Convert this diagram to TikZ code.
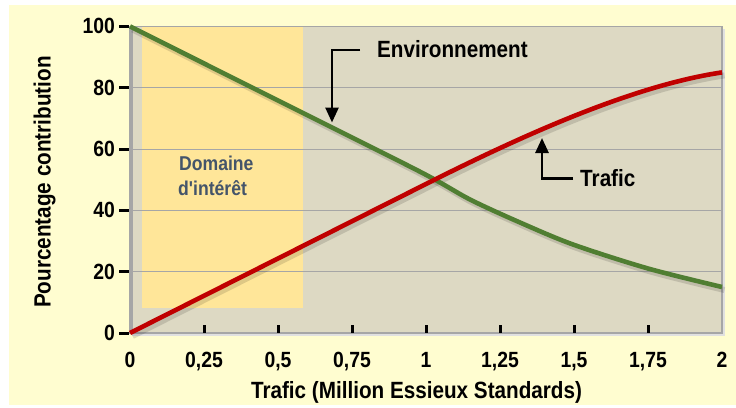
\documentclass[tikz,border=0pt]{standalone}
\usepackage{fontspec}
\newfontfamily\cf[FakeStretch=0.88]{Liberation Sans}
\usetikzlibrary{arrows.meta}
\definecolor{bgyel}{HTML}{FFFDD0}
\definecolor{plotbg}{HTML}{DDD9C3}
\definecolor{domfill}{HTML}{FFE699}
\definecolor{gridc}{HTML}{A6A6A6}
\definecolor{redc}{HTML}{C00000}
\definecolor{greenc}{HTML}{507E32}
\definecolor{slate}{HTML}{44546A}
\tikzset{
  big/.style={font=\cf\bfseries\fontsize{23.5}{28}\selectfont, inner sep=0pt},
  ticklab/.style={font=\cf\bfseries\fontsize{22}{26}\selectfont, inner sep=0pt},
  domlab/.style={font=\cf\bfseries\fontsize{20}{24}\selectfont, inner sep=0pt, text=slate, anchor=base west},
  gridline/.style={draw=gridc, line width=1pt},
  tickmark/.style={draw=black, line width=3pt},
  curve/.style={line width=4.6pt, line join=round},
  shade/.style={line width=6pt, black, opacity=0.13, line join=round, shift={(2.5,3)}},
  callout/.style={draw=black, line width=2.7pt, -{Triangle[length=15pt,width=13pt]}},
}
\begin{document}
\begin{tikzpicture}[x=1pt,y=-1pt]
\useasboundingbox (0,0) rectangle (736,407);
% background
\fill[bgyel] (9,5) rectangle (736,405);
% plot area
\fill[plotbg] (130,26.5) rectangle (722,333);
\fill[domfill] (142,26.5) rectangle (303,308);
% grid
\foreach \p in {20,40,60,80}{
  \draw[gridline] (130,{333-3.066*\p}) -- (722,{333-3.066*\p});
}
% frame
\draw[draw=black!12, line width=2pt] (724,29) -- (724,335) -- (132,335);
\draw[draw=gridc, line width=1.5pt] (130,26.5) rectangle (722,333);
\draw[draw=gridc, line width=3pt] (131.2,26.5) -- (131.2,333);
% y ticks and labels
\foreach \p in {0,20,40,60,80,100}{
  \draw[tickmark] (119,{333-3.066*\p}) -- (129,{333-3.066*\p});
  \node[ticklab, anchor=east] (yl\p) at (115,{333-3.066*\p}) {\p};
}
% x ticks
\foreach \v in {1,...,7}{
  \draw[tickmark] ({130+74*\v},325) -- ({130+74*\v},333);
}
% x labels
\foreach \v/\t in {0/0,1/{0,25},2/{0,5},3/{0,75},4/1,5/{1,25},6/{1,5},7/{1,75},8/2}{
  \node[ticklab, anchor=base] (xl\v) at ({130+74*\v},367) {\t};
}
% axis titles
\node[big, anchor=base] (xtitle) at (416.5,398) {Trafic (Million Essieux Standards)};
\node[big, anchor=base, rotate=90] (ytitle) at (50.5,182) {Pourcentage contribution};
% domain text
\node[domlab] (dom1) at (179,170) {Domaine};
\node[domlab] (dom2) at (178,195) {d'intérêt};
% shadows
\draw[shade] plot[smooth, tension=0.5] coordinates {(130,26.4) (278,100.5) (420,171.7) (470,199.5) (520,222.5) (573,244.5) (648,268.5) (722,287)};
\draw[shade] (130,333) -- (426,184) .. controls (516,138.7) and (630,86) .. (722,72.4);
% curves
\draw[curve, greenc] plot[smooth, tension=0.5] coordinates {(130,26.4) (278,100.5) (420,171.7) (470,199.5) (520,222.5) (573,244.5) (648,268.5) (722,287)};
\draw[curve, redc] (130,333) -- (426,184) .. controls (516,138.7) and (630,86) .. (722,72.4);
% callouts
\node[big, anchor=base west] (env) at (377,57.3) {Environnement};
\coordinate (envtip) at (332,122.5);
\draw[callout] ([xshift=-17pt,yshift=-1pt]env.west) -| (envtip);
\node[big, anchor=base west] (traf) at (580,186.7) {Trafic};
\coordinate (traftip) at (542,138);
\draw[callout] ([xshift=-7pt]traf.west) -| (traftip);
\end{tikzpicture}
\end{document}
